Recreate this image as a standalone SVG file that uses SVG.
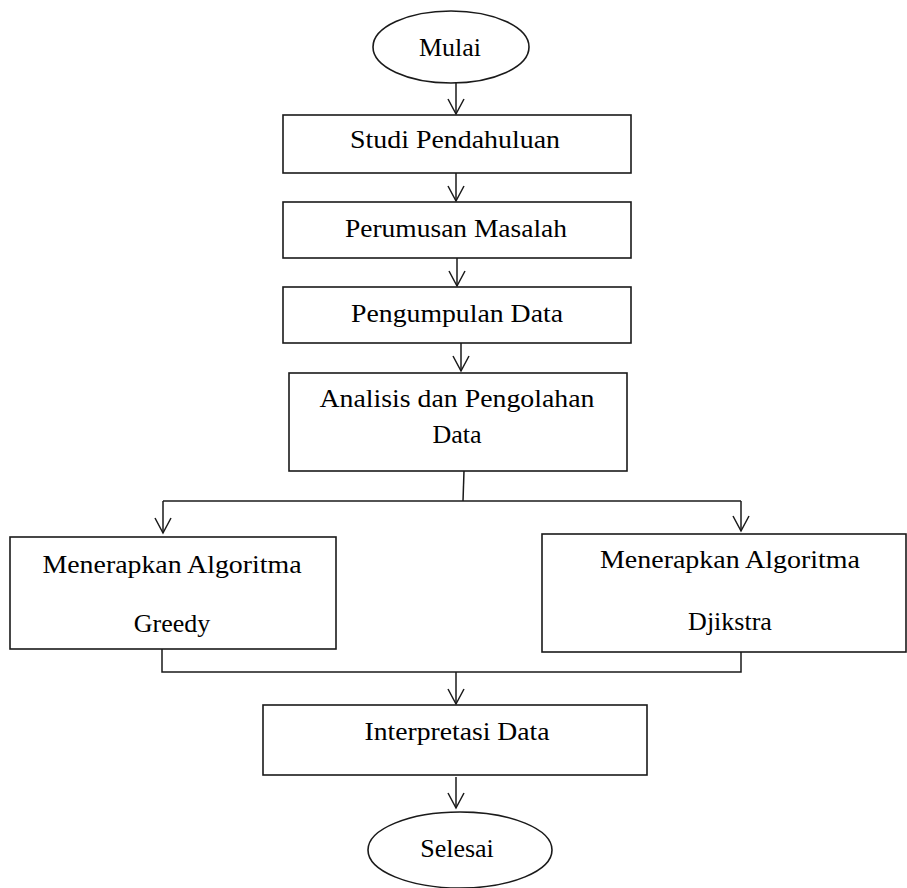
<svg xmlns="http://www.w3.org/2000/svg" width="907" height="888" viewBox="0 0 907 888">
<style>
.shape{fill:#fff;stroke:#1a1a1a;stroke-width:1.6}
.line{fill:none;stroke:#1a1a1a;stroke-width:1.5}
.lbl{font-family:"Liberation Serif","Times New Roman",serif;font-size:26px;fill:#000;text-anchor:middle}
</style>
<defs>
<marker id="arr" viewBox="0 0 20 20" refX="18" refY="10" markerWidth="20" markerHeight="20" markerUnits="userSpaceOnUse" orient="auto">
<path d="M3,2 L18,10 L3,18" fill="none" stroke="#1a1a1a" stroke-width="1.5"/>
</marker>
</defs>
<rect width="907" height="888" fill="#fff"/>
<g id="connectors">
<path class="line" d="M456,83 L456,114" marker-end="url(#arr)"/>
<path class="line" d="M456,173 L456,201" marker-end="url(#arr)"/>
<path class="line" d="M457,258 L457,286" marker-end="url(#arr)"/>
<path class="line" d="M461,343 L461,371" marker-end="url(#arr)"/>
<path class="line" d="M464,471 L463,501"/>
<path class="line" d="M163,501 L741,501"/>
<path class="line" d="M163,501 L163,533" marker-end="url(#arr)"/>
<path class="line" d="M741,501 L741,531" marker-end="url(#arr)"/>
<path class="line" d="M162,649 L162,672 L741,672 L741,652"/>
<path class="line" d="M456,672 L456,704" marker-end="url(#arr)"/>
<path class="line" d="M456,777 L456,808" marker-end="url(#arr)"/>
</g>
<g id="mulai">
<ellipse class="shape" cx="451" cy="47" rx="78" ry="36"/>
<text class="lbl" x="450" y="56" font-size="27">Mulai</text>
</g>
<g id="studi">
<rect class="shape" x="283" y="115" width="348" height="58"/>
<text class="lbl" x="455" y="148" textLength="210" lengthAdjust="spacingAndGlyphs">Studi Pendahuluan</text>
</g>
<g id="perumusan">
<rect class="shape" x="283" y="202" width="348" height="56"/>
<text class="lbl" x="456" y="237" textLength="222" lengthAdjust="spacingAndGlyphs">Perumusan Masalah</text>
</g>
<g id="pengumpulan">
<rect class="shape" x="283" y="287" width="348" height="56"/>
<text class="lbl" x="457" y="322" textLength="212" lengthAdjust="spacingAndGlyphs">Pengumpulan Data</text>
</g>
<g id="analisis">
<rect class="shape" x="289" y="373" width="338" height="98"/>
<text class="lbl" x="457" y="407" textLength="275" lengthAdjust="spacingAndGlyphs">Analisis dan Pengolahan</text>
<text class="lbl" x="457" y="443">Data</text>
</g>
<g id="greedy">
<rect class="shape" x="10" y="537" width="326" height="112"/>
<text class="lbl" x="172" y="573" textLength="259" lengthAdjust="spacingAndGlyphs">Menerapkan  Algoritma</text>
<text class="lbl" x="172" y="632">Greedy</text>
</g>
<g id="djikstra">
<rect class="shape" x="542" y="534" width="364" height="118"/>
<text class="lbl" x="730" y="568" textLength="260" lengthAdjust="spacingAndGlyphs">Menerapkan  Algoritma</text>
<text class="lbl" x="730" y="630">Djikstra</text>
</g>
<g id="interpretasi">
<rect class="shape" x="263" y="705" width="384" height="70"/>
<text class="lbl" x="457" y="740" textLength="185" lengthAdjust="spacingAndGlyphs">Interpretasi  Data</text>
</g>
<g id="selesai">
<ellipse class="shape" cx="460" cy="850" rx="92" ry="38"/>
<text class="lbl" x="457" y="857" font-size="27">Selesai</text>
</g>
</svg>
